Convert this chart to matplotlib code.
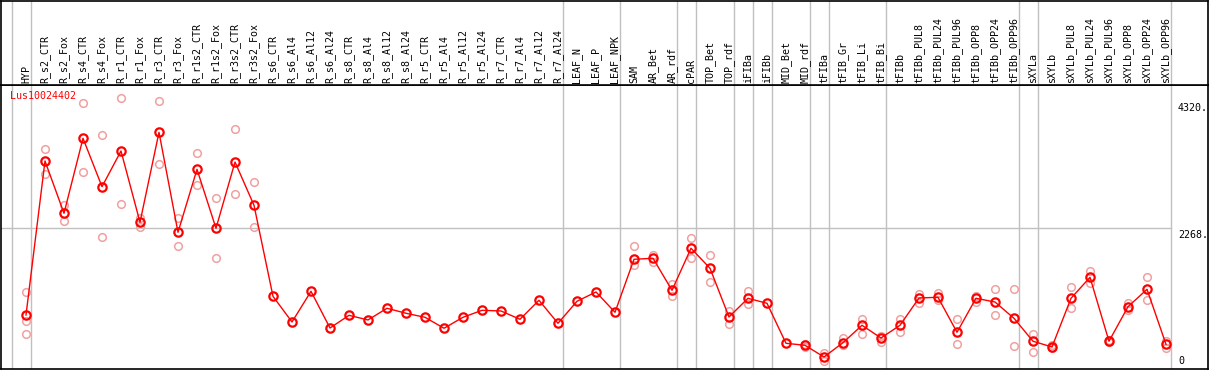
import numpy as np
import matplotlib.pyplot as plt

# sample names along the top
samples = ["HYP", "R_s2_CTR", "R_s2_Fox", "R_s4_CTR", "R_s4_Fox", "R_r1_CTR", "R_r1_Fox",
           "R_r3_CTR", "R_r3_Fox", "R_r1s2_CTR", "R_r1s2_Fox", "R_r3s2_CTR", "R_r3s2_Fox",
           "R_s6_CTR", "R_s6_Al4", "R_s6_Al12", "R_s6_Al24", "R_s8_CTR", "R_s8_Al4",
           "R_s8_Al12", "R_s8_Al24", "R_r5_CTR", "R_r5_Al4", "R_r5_Al12", "R_r5_Al24",
           "R_r7_CTR", "R_r7_Al4", "R_r7_Al12", "R_r7_Al24", "LEAF_N", "LEAF_P", "LEAF_NPK",
           "SAM", "AR_Bet", "AR_rdf", "cPAR", "TOP_Bet", "TOP_rdf", "iFIBa", "iFIBb",
           "MID_Bet", "MID_rdf", "tFIBa", "tFIB_Gr", "tFIB_Li", "tFIB_Bi", "tFIBb",
           "tFIBb_PUL8", "tFIBb_PUL24", "tFIBb_PUL96", "tFIBb_OPP8", "tFIBb_OPP24",
           "tFIBb_OPP96", "sXYLa", "sXYLb", "sXYLb_PUL8", "sXYLb_PUL24", "sXYLb_PUL96",
           "sXYLb_OPP8", "sXYLb_OPP24", "sXYLb_OPP96"]

# mean expression per sample
means = [862, 3350, 2505, 3716, 2935, 3511, 2360, 3813, 2198, 3215, 2263, 3333, 2634,
         1164, 749, 1245, 652, 857, 782, 971, 890, 825, 648, 825, 938, 927, 793, 1100, 728,
         1084, 1234, 906, 1762, 1778, 1261, 1940, 1617, 830, 1132, 1051, 405, 373, 184,
         415, 696, 491, 696, 1137, 1148, 583, 1132, 1072, 809, 438, 346, 1132, 1471, 438,
         996, 1277, 389]

nan = np.nan
# individual replicates (nan where none visible)
rep_hi = [1229, 3538, 2639, 4281, 3769, 4362, 2434, 4314, 2424, 3479, 2747, 3861, 3006,
          nan, nan, nan, nan, nan, nan, nan, nan, nan, nan, nan, nan, nan, nan, nan, nan,
          nan, nan, nan, 1977, 1831, 1358, 2111, 1831, 932, 1250, nan, nan, 400, 244,
          496, 798, 515, 798, 1202, 1213, 793, 1169, 1277, 1277, 560, 370, 1310, 1578, 460,
          1051, 1471, 447]
rep_lo = [551, 3135, 2376, 3167, 2122, 2650, 2289, 3296, 1977, 2957, 1778, 2812, 2284,
          nan, nan, nan, nan, nan, nan, nan, nan, nan, nan, nan, nan, nan, nan, nan, nan,
          nan, nan, nan, 1670, 1723, 1164, 1778, 1390, 722, 1035, nan, nan, 350, 120,
          378, 560, 431, 593, 1056, 1100, 389, 1077, 857, 362, 260, 330, 971, 1374, 420,
          943, 1100, 334]
rep_mid = [770] + [nan] * 60

# last sample index of each group (gray separators)
group_ends = [-1, 0, 28, 31, 34, 35, 37, 38, 39, 41, 42, 45, 52, 53, 60]

y_ticks = [0, 2268, 4320]
y_tick_labels = ["0", "2268.", "4320."]
gene = "Lus10024402"

W, H = 1209, 370
fig = plt.figure(figsize=(W / 100, H / 100), dpi=100)
font = dict(family="DejaVu Sans Mono", fontsize=7.2)

# x mapping: sample i at pixel 26 + 19*i
x_left = (1 - 26) / 19
x_right = (1208 - 26) / 19
top_px = 85
ax = fig.add_axes([1 / W, 1 / H, 1207 / W, (369 - top_px) / H])
lab = fig.add_axes([1 / W, (H - top_px) / H, 1207 / W, (top_px - 1) / H], sharex=ax)

x = np.arange(len(samples))
ax.set_xlim(x_left, x_right)
ax.set_ylim(-10, 4577)
lab.set_ylim(0, 1)

for a in (ax, lab):
    a.set_xticks([])
    a.set_yticks([])
    for s in a.spines.values():
        s.set_color("black")
        s.set_linewidth(1.2)

sep_x = [g + 0.25 for g in group_ends]
for sx in sep_x:
    ax.axvline(sx, color="#c0c0c0", lw=1, zorder=1)
    lab.axvline(sx, color="#c0c0c0", lw=1, zorder=1)

ax.plot([x_left, sep_x[-1]], [y_ticks[1], y_ticks[1]], color="#c0c0c0", lw=1, zorder=1)

# replicates
for reps in (rep_hi, rep_lo, rep_mid):
    ax.plot(x, reps, "o", ms=5.5, mfc="none", mec="#f0a0a0", mew=1.1, zorder=2)

ax.plot(x, means, "-", color="red", lw=1, zorder=3)
ax.plot(x, means, "o", ms=6, mfc="none", mec="red", mew=1.6, zorder=4)

for v, t in zip(y_ticks, y_tick_labels):
    if v == 0:
        ax.text(1178, 40, t, va="bottom", ha="left", transform=ax.transData, **font)
    else:
        ax.text(1178 / 1.0, v - 30, t, va="top", ha="left", **font)
for t in ax.texts:
    t.set_x((t.get_position()[0] - 26) / 19)

ax.text(x_left + 9 / 19, 0.96, gene, color="red", va="center", ha="left",
        transform=ax.get_xaxis_transform(), **font)

for i, name in enumerate(samples):
    lab.text(i, 2 / 84, name, rotation=90, ha="center", va="bottom", **font)

fig.savefig("out.png", dpi=100)
